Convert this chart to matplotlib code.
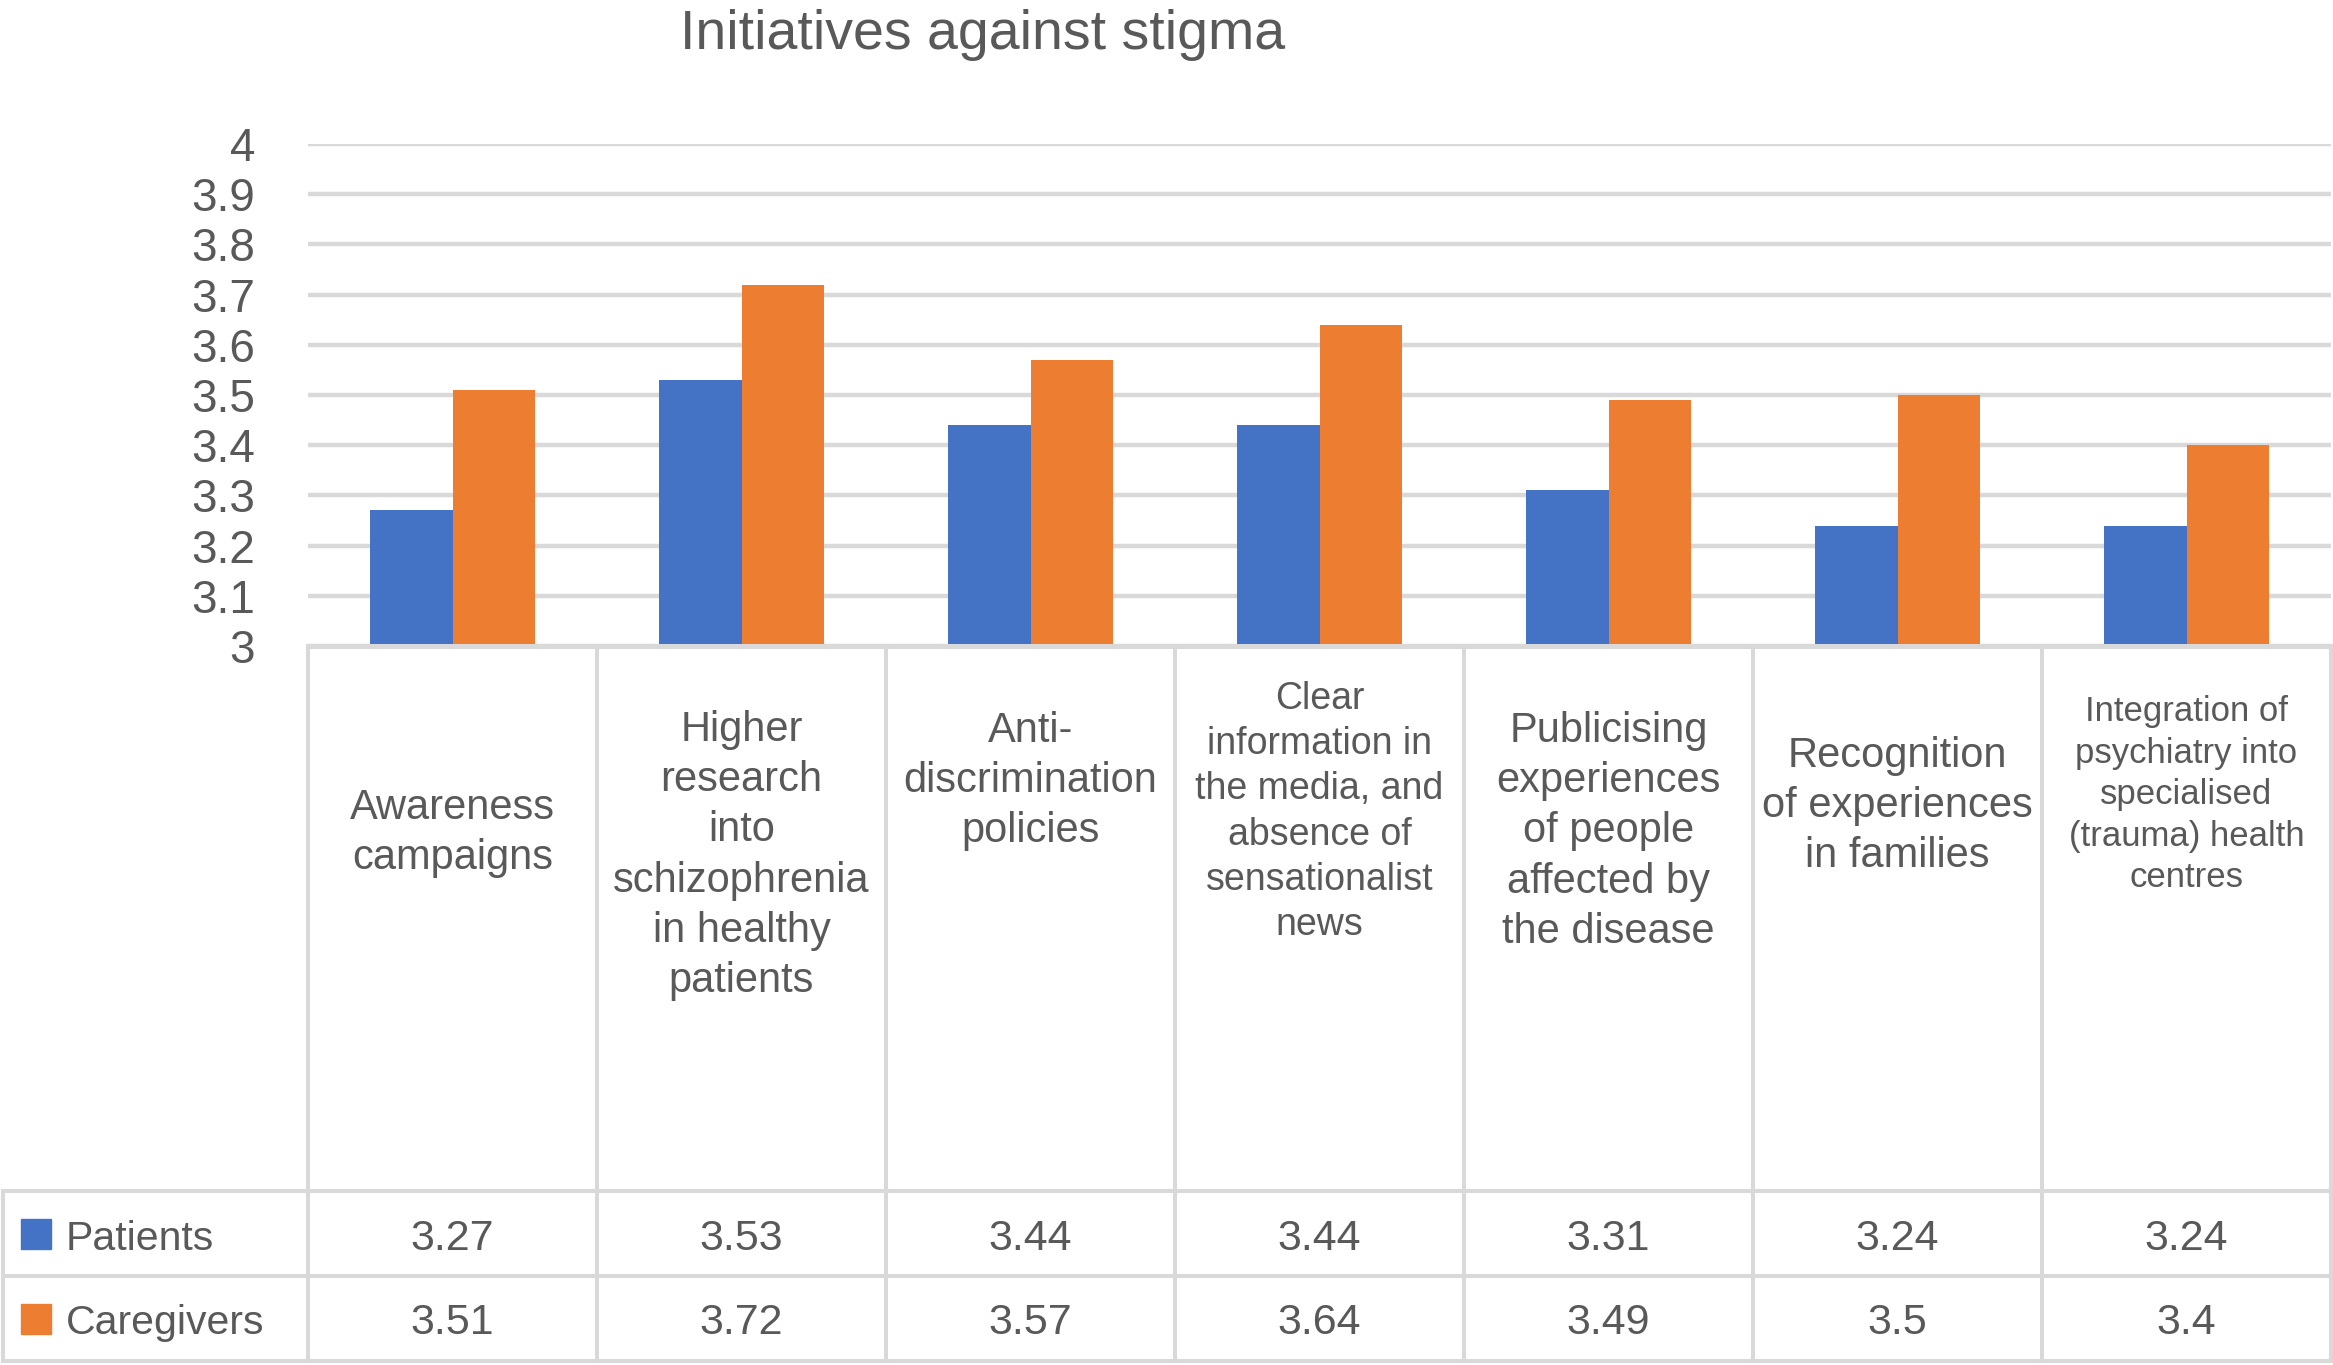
import numpy as np
import matplotlib.pyplot as plt
from matplotlib.lines import Line2D
from matplotlib.patches import Rectangle

plt.rcParams['font.family'] = ['Liberation Sans', 'DejaVu Sans']

categories = [
    "Awareness\ncampaigns",
    "Higher\nresearch\ninto\nschizophrenia\nin healthy\npatients",
    "Anti-\ndiscrimination\npolicies",
    "Clear\ninformation in\nthe media, and\nabsence of\nsensationalist\nnews",
    "Publicising\nexperiences\nof people\naffected by\nthe disease",
    "Recognition\nof experiences\nin families",
    "Integration of\npsychiatry into\nspecialised\n(trauma) health\ncentres",
]
series_names = ["Patients", "Caregivers"]
patients = [3.27, 3.53, 3.44, 3.44, 3.31, 3.24, 3.24]
caregivers = [3.51, 3.72, 3.57, 3.64, 3.49, 3.5, 3.4]
yticks = [3.0, 3.1, 3.2, 3.3, 3.4, 3.5, 3.6, 3.7, 3.8, 3.9, 4.0]

# layout (pixels from top-left of the 2333x1365 picture)
W, H = 2333, 1365
label_top = [788, 710, 711, 681, 711, 736, 695]
label_size = [30, 30, 30, 27, 30, 30, 25]
colors = ['#4472C4', '#ED7D31']
grey_text = '#595959'
line_col = '#D9D9D9'

def fx(x):
    return x / W

def fy(y):
    return 1 - y / H

fig = plt.figure(figsize=(W / 100, H / 100), dpi=100)

ax_left, ax_right, ax_top, ax_bot = 308, 2331, 144, 646
ax = fig.add_axes([fx(ax_left), fy(ax_bot), fx(ax_right - ax_left), (ax_bot - ax_top) / H])

x = np.arange(len(categories))
bw = 0.286
ax.bar(x - bw / 2, patients, bw, color=colors[0], zorder=3)
ax.bar(x + bw / 2, caregivers, bw, color=colors[1], zorder=3)

ax.set_xlim(-0.5, len(categories) - 0.5)
ax.set_ylim(3, 4)
ax.set_yticks(yticks)
ax.set_yticklabels([f"{t:g}" for t in yticks])
ax.set_xticks([])
ax.tick_params(axis='y', length=0, pad=38, labelsize=33, labelcolor=grey_text)
ax.yaxis.grid(True, color=line_col, linewidth=3.2, zorder=0)
for s in ['top', 'right', 'left']:
    ax.spines[s].set_visible(False)
ax.spines['bottom'].set_color(line_col)
ax.spines['bottom'].set_linewidth(3.6)
ax.spines['bottom'].set_zorder(4)

fig.text(fx(983), fy(49), "Initiatives against stigma", ha='center', va='baseline',
         fontsize=40, color=grey_text)

# data table under the chart
col_w = (ax_right - ax_left) / len(categories)
row_lines = [1191, 1276, 1361]
for yl in row_lines:
    fig.add_artist(Line2D([fx(3), fx(ax_right)], [fy(yl), fy(yl)], color=line_col, lw=2.9))
for k in range(len(categories) + 1):
    xl = ax_left + k * col_w
    fig.add_artist(Line2D([fx(xl), fx(xl)], [fy(ax_bot), fy(1361)], color=line_col, lw=2.9))
fig.add_artist(Line2D([fx(3), fx(3)], [fy(1191), fy(1361)], color=line_col, lw=2.9))

for i, lab in enumerate(categories):
    cx = ax_left + (i + 0.5) * col_w
    fig.text(fx(cx), fy(label_top[i]), lab, ha='center', va='top', fontsize=label_size[i],
             color=grey_text, linespacing=1.33)

row_centers = [1233.5, 1318.5]
for r, (name, vals) in enumerate(zip(series_names, [patients, caregivers])):
    yc = row_centers[r]
    fig.add_artist(Rectangle((fx(21), fy(yc + 15)), fx(30), 30 / H, color=colors[r]))
    fig.text(fx(66), fy(yc + 5), name, ha='left', va='center', fontsize=29.5, color=grey_text)
    for i, v in enumerate(vals):
        cx = ax_left + (i + 0.5) * col_w
        fig.text(fx(cx), fy(yc + 5), f"{v:g}", ha='center', va='center', fontsize=31,
                 color=grey_text)

fig.savefig("out.png", dpi=100)
